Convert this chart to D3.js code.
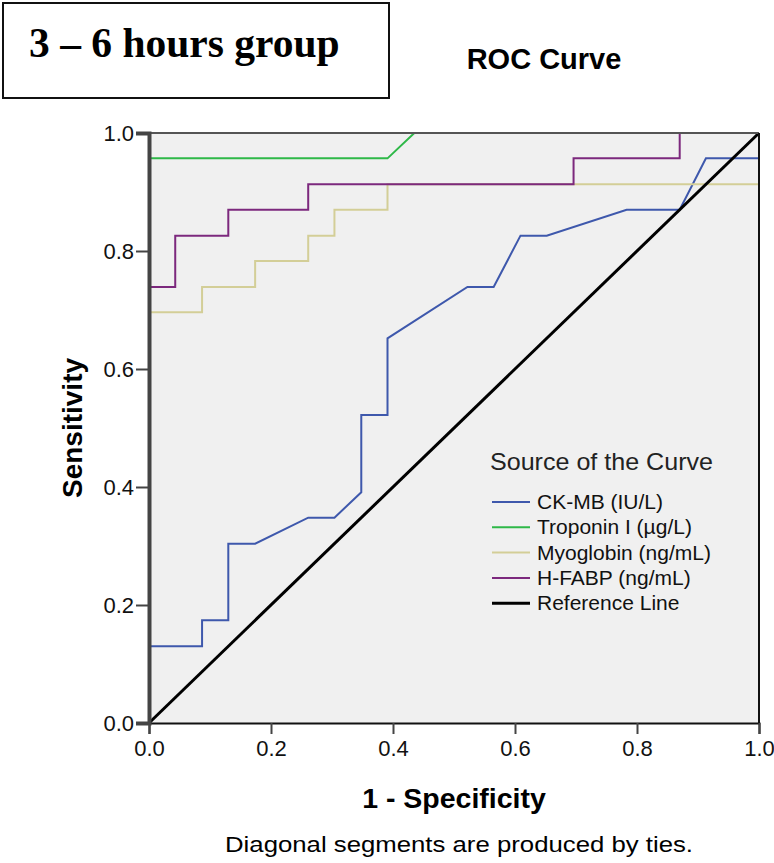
<!DOCTYPE html>
<html>
<head>
<meta charset="utf-8">
<script src="https://cdn.jsdelivr.net/npm/d3@7"></script>
<style>
  body { margin: 0; background: #fff; }
  text { font-family: "Liberation Sans", Arial, sans-serif; }
</style>
</head>
<body>
<svg id="chart" width="774" height="863"></svg>
<script>
// ROC curves, 3 - 6 hours group
var seriesNames = ["CK-MB (IU/L)", "Troponin I (\u00b5g/L)", "Myoglobin (ng/mL)", "H-FABP (ng/mL)"];
var seriesColors = ["#3e58ac", "#2eb848", "#d3ce97", "#7c287d"];

// 1 - specificity / sensitivity pairs
var ckmbX = [0, 0, 0.087, 0.087, 0.13, 0.13, 0.174, 0.261, 0.304, 0.348, 0.348, 0.391, 0.391, 0.522, 0.565, 0.609, 0.652, 0.783, 0.87, 0.913, 1, 1];
var ckmbY = [0, 0.13, 0.13, 0.174, 0.174, 0.304, 0.304, 0.348, 0.348, 0.391, 0.522, 0.522, 0.652, 0.739, 0.739, 0.826, 0.826, 0.87, 0.87, 0.957, 0.957, 1];

var tropX = [0, 0, 0.391, 0.435, 1];
var tropY = [0, 0.957, 0.957, 1, 1];

var myoX = [0, 0, 0.087, 0.087, 0.174, 0.174, 0.261, 0.261, 0.304, 0.304, 0.391, 0.391, 1, 1];
var myoY = [0, 0.696, 0.696, 0.739, 0.739, 0.783, 0.783, 0.826, 0.826, 0.87, 0.87, 0.913, 0.913, 1];

var fabpX = [0, 0, 0.043, 0.043, 0.13, 0.13, 0.261, 0.261, 0.696, 0.696, 0.87, 0.87, 1];
var fabpY = [0, 0.739, 0.739, 0.826, 0.826, 0.87, 0.87, 0.913, 0.913, 0.957, 0.957, 1, 1];

var refX = [0, 1];
var refY = [0, 1];

var tickValues = [0, 0.2, 0.4, 0.6, 0.8, 1.0];

var svg = d3.select("#chart");

// plot edges (don't call it "top", that's window.top)
var pLeft = 149, pRight = 759, pTop = 133, pBottom = 723;

var x = d3.scaleLinear().domain([0, 1]).range([pLeft, pRight]);
var y = d3.scaleLinear().domain([0, 1]).range([pBottom, pTop]);

// title box
svg.append("rect")
  .attr("x", 3).attr("y", 3).attr("width", 386).attr("height", 95)
  .attr("fill", "#fff").attr("stroke", "#111").attr("stroke-width", 2);
svg.append("text")
  .attr("x", 29).attr("y", 57)
  .style("font-family", "'Liberation Serif', 'Times New Roman', serif")
  .style("font-weight", "bold")
  .style("font-size", "41.5px")
  .text("3 \u2013 6 hours group");

svg.append("text")
  .attr("x", 544).attr("y", 69)
  .attr("text-anchor", "middle")
  .style("font-weight", "bold").style("font-size", "29px")
  .text("ROC Curve");

// plot background
svg.append("rect")
  .attr("x", pLeft).attr("y", pTop)
  .attr("width", pRight - pLeft).attr("height", pBottom - pTop)
  .attr("fill", "#f0f0f0");

var line = d3.line()
  .x(function(d) { return x(d[0]) })
  .y(function(d) { return y(d[1]) });

var curves = [
  { xs: ckmbX, ys: ckmbY },
  { xs: tropX, ys: tropY },
  { xs: myoX, ys: myoY },
  { xs: fabpX, ys: fabpY }
];

svg.selectAll(".curve")
  .data(curves)
  .enter().append("path")
  .attr("class", "curve")
  .attr("d", function(c) { return line(d3.zip(c.xs, c.ys)) })
  .attr("fill", "none")
  .attr("stroke", function(c, i) { return seriesColors[i] })
  .attr("stroke-width", 2);

svg.append("path")
  .attr("d", line(d3.zip(refX, refY)))
  .attr("fill", "none")
  .attr("stroke", "#000")
  .attr("stroke-width", 3);

// frame
svg.append("line").attr("x1", pLeft).attr("x2", pRight).attr("y1", pTop).attr("y2", pTop)
  .attr("stroke", "#555").attr("stroke-width", 2);
svg.append("line").attr("x1", pRight).attr("x2", pRight).attr("y1", pTop).attr("y2", pBottom)
  .attr("stroke", "#111").attr("stroke-width", 2);

// axes
var xAxis = svg.append("g")
  .attr("transform", "translate(0," + pBottom + ")")
  .call(d3.axisBottom(x).tickValues(tickValues).tickFormat(d3.format(".1f")).tickSizeOuter(0).tickSize(11).tickPadding(6));
var yAxis = svg.append("g")
  .attr("transform", "translate(" + pLeft + ",0)")
  .call(d3.axisLeft(y).tickValues(tickValues).tickFormat(d3.format(".1f")).tickSizeOuter(0).tickSize(13).tickPadding(2));

[xAxis, yAxis].forEach(function(a) {
  a.selectAll("text").style("font-size", "22px").attr("fill", "#111")
    .style("font-family", "'Liberation Sans', Arial, sans-serif");
  a.selectAll(".tick line").attr("stroke", "#444").attr("stroke-width", 2);
});
xAxis.select(".domain").attr("stroke", "#111").attr("stroke-width", 2);
yAxis.select(".domain").attr("stroke", "#444").attr("stroke-width", 4);

// axis titles
svg.append("text")
  .attr("transform", "translate(82," + (pTop + pBottom) / 2 + ") rotate(-90)")
  .attr("text-anchor", "middle")
  .style("font-weight", "bold").style("font-size", "28px")
  .text("Sensitivity");

svg.append("text")
  .attr("x", (pLeft + pRight) / 2).attr("y", 808)
  .attr("text-anchor", "middle")
  .style("font-weight", "bold").style("font-size", "28.5px")
  .text("1 - Specificity");

svg.append("text")
  .attr("x", 459).attr("y", 852)
  .attr("text-anchor", "middle")
  .style("font-family", "'Liberation Sans Narrow', 'Arial Narrow', 'Liberation Sans', sans-serif")
  .style("font-size", "22px")
  .attr("textLength", 468).attr("lengthAdjust", "spacingAndGlyphs")
  .text("Diagonal segments are produced by ties.");

// legend
var legendNames = seriesNames.concat(["Reference Line"]);
var legendColors = seriesColors.concat(["#000"]);

var legend = svg.append("g").attr("transform", "translate(490,0)");
legend.append("text")
  .attr("x", 0).attr("y", 470)
  .style("font-size", "24px").attr("fill", "#222")
  .attr("textLength", 223).attr("lengthAdjust", "spacingAndGlyphs")
  .text("Source of the Curve");

var item = legend.selectAll(".item")
  .data(legendNames)
  .enter().append("g")
  .attr("class", "item")
  .attr("transform", function(d, i) { return "translate(0," + (502 + i * 25.3) + ")" });

item.append("line")
  .attr("x1", 2).attr("x2", 40)
  .attr("stroke", function(d, i) { return legendColors[i] })
  .attr("stroke-width", function(d, i) { return i === 4 ? 3 : 2 });

item.append("text")
  .attr("x", 47).attr("y", 7)
  .style("font-size", "21px").attr("fill", "#111")
  .text(function(d) { return d });
</script>
</body>
</html>
